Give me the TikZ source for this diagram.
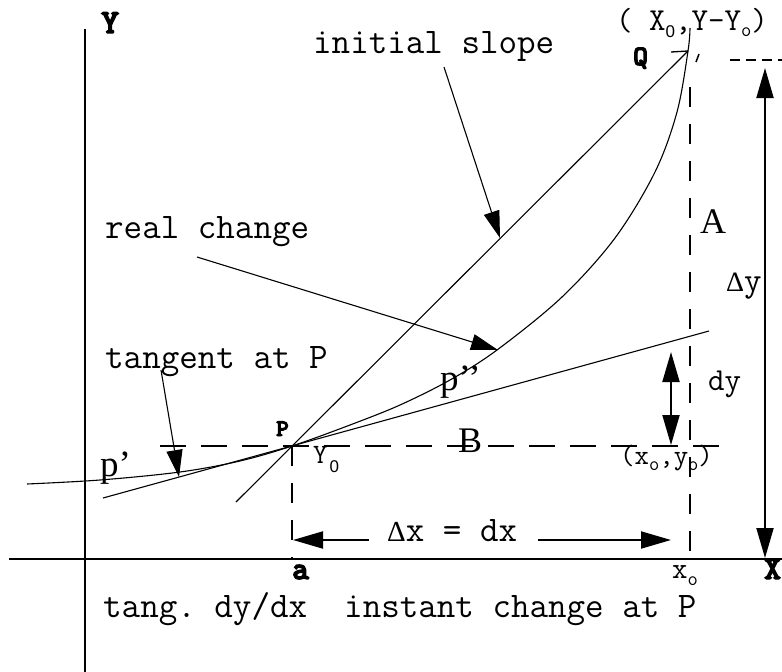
\documentclass[tikz,border=0pt]{standalone}
\usepackage{fontspec}
\usetikzlibrary{arrows.meta}
\newfontfamily\tms{Liberation Serif}
\newfontfamily\sns{Liberation Sans}
\newfontfamily\lmmb[FakeBold=4]{lmmonolt10-bold.otf}
\newcommand{\fsz}[1]{\fontsize{#1}{#1}\selectfont}
\begin{document}
\begin{tikzpicture}[x=1pt,y=-1pt,
  lbl/.style={inner sep=0pt, anchor=base west},
  mono/.style={lbl, font=\fsz{#1}\ttfamily\frenchspacing},
  monob/.style={lbl, font=\fsz{#1}\lmmb},
  serif/.style={lbl, font=\fsz{#1}\tms},
  thinln/.style={line width=1.1pt},
  axis/.style={line width=2pt},
  dashln/.style={line width=2pt, dash pattern=on 20pt off 17pt},
  dashh/.style={line width=2pt, dash pattern=on 26pt off 15pt},
  thinarrow/.style={thinln, -{Triangle[length=27pt,width=16pt]}},
  thickarrow/.style={line width=2pt, -{Triangle[length=30pt,width=17pt]}},
  dblarrow/.style={line width=2pt, {Triangle[length=30pt,width=17pt]}-{Triangle[length=30pt,width=17pt]}}
]
\useasboundingbox (0,0) rectangle (782,672);

% key points
\coordinate (P) at (292,446);
\coordinate (Q) at (688,51);
\coordinate (ySlopeLo) at (236,502);
\coordinate (tanLo) at (103,498);
\coordinate (tanHi) at (709,331);

% axes
\draw[axis] (85,29) coordinate (yTop) -- (85,672) coordinate (yBot);
\draw[axis] (9,559) coordinate (xL) -- (782,559) coordinate (xR);

% dashed guides
\coordinate (dvTop) at (690,87);
\coordinate (dvBot) at (690,559);
\draw[dashln] (dvTop) -- (dvBot);
\coordinate (dhL) at (160,446);
\coordinate (dhR) at (728,446);
\draw[dashh] (dhL) -- (dhR);
\coordinate (aTop) at (292,446);
\coordinate (aBot) at (292,559);
\draw[dashln] (aTop) -- (aBot);
\coordinate (qdL) at (730,60);
\coordinate (qdR) at (782,60);
\draw[line width=1.6pt, dash pattern=on 10pt off 6pt] (qdL) -- (qdR);

% Q tick and mark
\coordinate (qtL) at (671,52);
\draw[line width=1.3pt] (qtL) -- (Q);
\coordinate (qm1) at (699,54);
\coordinate (qm2) at (696,62);
\draw[line width=1.5pt] (qm1) -- (qm2);

% lines
\draw[thinln] (ySlopeLo) -- (Q);
\draw[thinln] (tanLo) -- (tanHi);
\draw[thinln] plot[smooth,tension=0.55] coordinates {(27,484) (100,480) (180,472) (240,461) (292,446) (350,425) (400,405) (450,380) (497,350) (562,297) (615,238) (655,172) (677,112) (688,51) (690,28)};

% pointer arrows
\coordinate (isS) at (444,67);
\coordinate (isT) at (500,238);
\draw[thinarrow] (isS) -- (isT);
\coordinate (rcS) at (197,257);
\coordinate (rcT) at (498,350);
\draw[thinarrow] (rcS) -- (rcT);
\coordinate (tpS) at (161,370);
\coordinate (tpT) at (179,477);
\draw[thinarrow] (tpS) -- (tpT);

% dimension arrows
\coordinate (dyT) at (671,352);
\coordinate (dyB) at (671,445);
\draw[dblarrow] (dyT) -- (dyB);
\coordinate (DyT) at (765,68);
\coordinate (DyB) at (765,558);
\draw[dblarrow] (DyT) -- (DyB);
\coordinate (dxLS) at (369,540);
\coordinate (dxLT) at (293,540);
\draw[thickarrow] (dxLS) -- (dxLT);
\coordinate (dxRS) at (538,540);
\coordinate (dxRT) at (671,540);
\draw[thickarrow] (dxRS) -- (dxRT);

% labels
\node[monob=34] (lY) at (101,33) {Y};
\node[monob=32] (lX) at (764,579) {X};
\node[monob=32] (la) at (292,579) {a};
\node[monob=24] (lP) at (276,436) {P};
\node[monob=28] (lQ) at (633,65) {Q};
\node[mono=32] (lQc) at (616,30) {( X\raisebox{-7pt}{\sns\fsz{17}0},Y-Y\raisebox{-6pt}{\fsz{20}o})};
\node[mono=36] (lInit) at (313,53) {initial slope};
\node[mono=36] (lReal) at (105,238) {real change};
\node[mono=36] (lTan) at (105,368) {tangent at P};
\node[mono=36] (lTang) at (103,617) {tang. dy/dx\ \ instant change at P};
\node[mono=36] (lDx) at (387,541) {{\tms\fsz{29}Δ}x = dx};
\node[mono=34] (lDy) at (726,291) {{\tms\fsz{28}Δ}y};
\node[mono=32] (ldy) at (708,390) {dy};
\node[serif=36] (lA) at (700,233) {A};
\node[serif=36] (lB) at (458,452) {B};
\node[serif=37] (lpp) at (440,390) {p’’};
\node[serif=37] (lp) at (100,476) {p’};
\node[mono=28] (lY0) at (313,463) {Y\kern2pt\raisebox{-9pt}{\sns\fsz{17}0}};
\node[mono=28] (lxy) at (620,464) {(x\raisebox{-6pt}{\fsz{20}o},y\raisebox{-6pt}{\fsz{20}o})};
\node[mono=30] (lxo) at (672,578) {x\raisebox{-7pt}{\fsz{20}o}};
\end{tikzpicture}
\end{document}
